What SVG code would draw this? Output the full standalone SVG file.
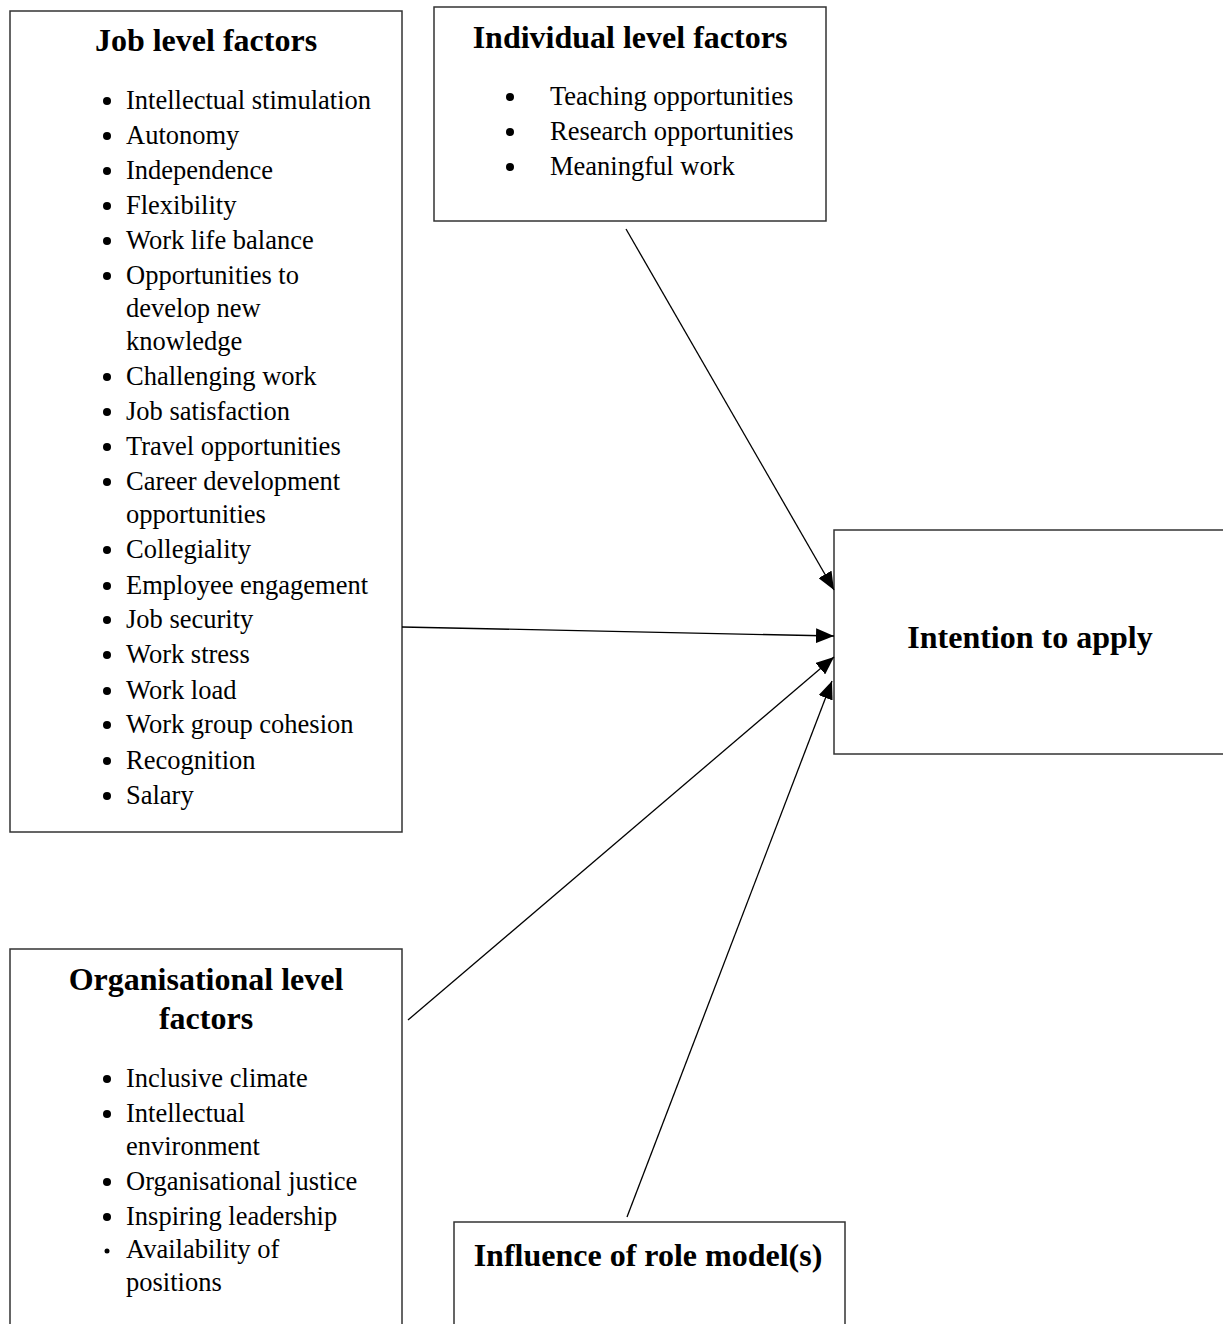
<svg xmlns="http://www.w3.org/2000/svg" width="1223" height="1324" viewBox="0 0 1223 1324">
<style>
.box{fill:#fff;stroke:#333;stroke-width:1.5}
.t{font-family:"Liberation Serif","Times New Roman",serif;font-weight:bold;font-size:32px;fill:#000}
.i{font-family:"Liberation Serif","Times New Roman",serif;font-size:26.5px;fill:#000}
.c{stroke:#000;stroke-width:1.3;fill:none;marker-end:url(#ah)}
</style>
<defs>
<marker id="ah" viewBox="0 0 18 15" refX="18" refY="7.5" markerWidth="18" markerHeight="15" markerUnits="userSpaceOnUse" orient="auto">
<path d="M0,0 L18,7.5 L0,15 Z" fill="#000"/>
</marker>
</defs>
<rect width="1223" height="1324" fill="#fff"/>
<g id="job">
<rect class="box" x="10" y="11" width="392" height="821"/>
<text class="t" x="206" y="51" text-anchor="middle">Job level factors</text>
<g fill="#000">
<circle cx="107" cy="101" r="4"/><circle cx="107" cy="136" r="4"/><circle cx="107" cy="171" r="4"/><circle cx="107" cy="206" r="4"/><circle cx="107" cy="241" r="4"/><circle cx="107" cy="276" r="4"/><circle cx="107" cy="377" r="4"/><circle cx="107" cy="412" r="4"/><circle cx="107" cy="447" r="4"/><circle cx="107" cy="482" r="4"/><circle cx="107" cy="550" r="4"/><circle cx="107" cy="586" r="4"/><circle cx="107" cy="620" r="4"/><circle cx="107" cy="655" r="4"/><circle cx="107" cy="691" r="4"/><circle cx="107" cy="725" r="4"/><circle cx="107" cy="761" r="4"/><circle cx="107" cy="796" r="4"/>
</g>
<text class="i" x="126" y="109">Intellectual stimulation</text>
<text class="i" x="126" y="144">Autonomy</text>
<text class="i" x="126" y="179">Independence</text>
<text class="i" x="126" y="214">Flexibility</text>
<text class="i" x="126" y="249">Work life balance</text>
<text class="i" x="126" y="284">Opportunities to</text>
<text class="i" x="126" y="317">develop new</text>
<text class="i" x="126" y="350">knowledge</text>
<text class="i" x="126" y="385">Challenging work</text>
<text class="i" x="126" y="420">Job satisfaction</text>
<text class="i" x="126" y="455">Travel opportunities</text>
<text class="i" x="126" y="490">Career development</text>
<text class="i" x="126" y="523">opportunities</text>
<text class="i" x="126" y="558">Collegiality</text>
<text class="i" x="126" y="594">Employee engagement</text>
<text class="i" x="126" y="628">Job security</text>
<text class="i" x="126" y="663">Work stress</text>
<text class="i" x="126" y="699">Work load</text>
<text class="i" x="126" y="733">Work group cohesion</text>
<text class="i" x="126" y="769">Recognition</text>
<text class="i" x="126" y="804">Salary</text>
</g>
<g id="individual">
<rect class="box" x="434" y="7" width="392" height="214"/>
<text class="t" x="630" y="48" text-anchor="middle">Individual level factors</text>
<g fill="#000"><circle cx="510" cy="97" r="4"/><circle cx="510" cy="132" r="4"/><circle cx="510" cy="167" r="4"/></g>
<text class="i" x="550" y="105">Teaching opportunities</text>
<text class="i" x="550" y="140">Research opportunities</text>
<text class="i" x="550" y="175">Meaningful work</text>
</g>
<g id="intention">
<rect class="box" x="834" y="530" width="392" height="224"/>
<text class="t" x="1030" y="648" text-anchor="middle">Intention to apply</text>
</g>
<g id="organisational">
<rect class="box" x="10" y="949" width="392" height="390"/>
<text class="t" x="206" y="990" text-anchor="middle">Organisational level</text>
<text class="t" x="206" y="1029" text-anchor="middle">factors</text>
<g fill="#000"><circle cx="107" cy="1079" r="4"/><circle cx="107" cy="1114" r="4"/><circle cx="107" cy="1182" r="4"/><circle cx="107" cy="1217" r="4"/><circle cx="107" cy="1251" r="2.5"/></g>
<text class="i" x="126" y="1087">Inclusive climate</text>
<text class="i" x="126" y="1122">Intellectual</text>
<text class="i" x="126" y="1155">environment</text>
<text class="i" x="126" y="1190">Organisational justice</text>
<text class="i" x="126" y="1225">Inspiring leadership</text>
<text class="i" x="126" y="1258">Availability of</text>
<text class="i" x="126" y="1291">positions</text>
</g>
<g id="rolemodel">
<rect class="box" x="454" y="1222" width="391" height="120"/>
<text class="t" x="648" y="1266" text-anchor="middle">Influence of role model(s)</text>
</g>
<g id="connectors">
<line class="c" x1="626" y1="229" x2="834" y2="590"/>
<line class="c" x1="402" y1="627" x2="834" y2="636"/>
<line class="c" x1="408" y1="1020" x2="834" y2="657"/>
<line class="c" x1="627" y1="1217" x2="832" y2="681"/>
</g>
</svg>
